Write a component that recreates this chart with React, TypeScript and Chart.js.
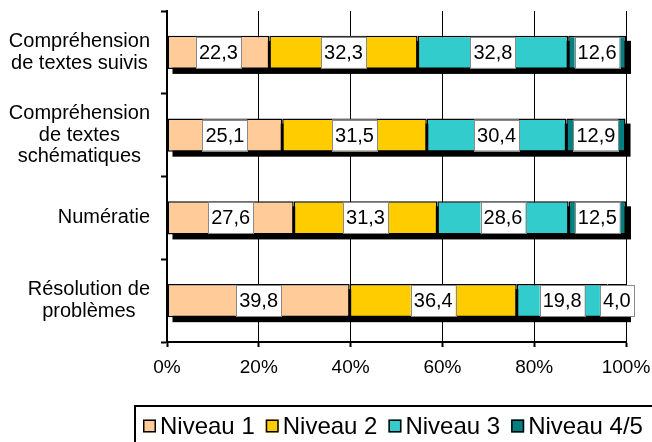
import React, { useEffect, useRef } from 'react';
import { Chart, registerables } from 'chart.js';

Chart.register(...registerables);

const categories: string[][] = [
  ['Compréhension', 'de textes suivis'],
  ['Compréhension', 'de textes', 'schématiques'],
  ['Numératie'],
  ['Résolution de', 'problèmes'],
];
const seriesNames = ['Niveau 1', 'Niveau 2', 'Niveau 3', 'Niveau 4/5'];
const niveau1 = [22.3, 25.1, 27.6, 39.8];
const niveau2 = [32.3, 31.5, 31.3, 36.4];
const niveau3 = [32.8, 30.4, 28.6, 19.8];
const niveau45 = [12.6, 12.9, 12.5, 4.0];
const xTickValues = [0, 20, 40, 60, 80, 100];
const seriesColors = ['#FFCC99', '#FFCC00', '#33CCCC', '#008080'];

const FONT = "'Liberation Sans', Arial, sans-serif";

const fmt = (v: number) => v.toFixed(1).replace('.', ',');

const shadowPlugin = {
  id: 'barShadow',
  beforeDatasetsDraw(chart: any) {
    const ctx = chart.ctx;
    const n = chart.data.labels.length;
    ctx.save();
    ctx.fillStyle = '#000';
    for (let j = 0; j < n; j++) {
      let minX = Infinity, maxX = -Infinity, y = 0, h = 0;
      chart.data.datasets.forEach((_: any, i: number) => {
        const el = chart.getDatasetMeta(i).data[j];
        if (!el) return;
        const p = el.getProps(['x', 'y', 'base', 'height'], true);
        minX = Math.min(minX, p.base, p.x);
        maxX = Math.max(maxX, p.base, p.x);
        y = p.y;
        h = p.height;
      });
      ctx.fillRect(minX + 5, y - h / 2 + 5, maxX - minX, h);
    }
    ctx.restore();
  },
};

const valueLabelPlugin = {
  id: 'valueLabels',
  afterDatasetsDraw(chart: any) {
    const ctx = chart.ctx;
    ctx.save();
    ctx.font = `20px ${FONT}`;
    ctx.textAlign = 'center';
    ctx.textBaseline = 'middle';
    chart.data.datasets.forEach((ds: any, i: number) => {
      const meta = chart.getDatasetMeta(i);
      meta.data.forEach((el: any, j: number) => {
        const p = el.getProps(['x', 'y', 'base', 'height'], true);
        const cx = (p.x + p.base) / 2;
        const text = fmt(ds.data[j]);
        const w = ctx.measureText(text).width + 6;
        const h = p.height - 2;
        ctx.fillStyle = '#fff';
        ctx.fillRect(cx - w / 2, p.y - h / 2, w, h);
        ctx.strokeStyle = '#8a8a8a';
        ctx.lineWidth = 1;
        ctx.strokeRect(Math.round(cx - w / 2) + 0.5, Math.round(p.y - h / 2) + 0.5, Math.round(w), Math.round(h));
        ctx.fillStyle = '#000';
        ctx.fillText(text, cx, p.y + 1);
      });
    });
    ctx.restore();
  },
};

const categoryLabelPlugin = {
  id: 'categoryLabels',
  afterDraw(chart: any) {
    const ctx = chart.ctx;
    const yScale = chart.scales.y;
    const right = chart.chartArea.left - 17;
    const lh = 21.5;
    ctx.save();
    ctx.font = `20px ${FONT}`;
    ctx.fillStyle = '#000';
    ctx.textAlign = 'center';
    ctx.textBaseline = 'middle';
    (chart.data.labels as string[][]).forEach((lines, j) => {
      const y = yScale.getPixelForValue(j);
      const maxW = Math.max(...lines.map((l) => ctx.measureText(l).width));
      const cx = right - maxW / 2;
      lines.forEach((line, k) => {
        ctx.fillText(line, cx, y - ((lines.length - 1) * lh) / 2 + k * lh);
      });
    });
    ctx.restore();
  },
};

const legendPlugin = {
  id: 'boxedLegend',
  afterDraw(chart: any) {
    const ctx = chart.ctx;
    ctx.save();
    ctx.strokeStyle = '#000';
    ctx.lineWidth = 2;
    ctx.strokeRect(135, 406, 540, 60);
    ctx.font = `24px ${FONT}`;
    ctx.textBaseline = 'middle';
    ctx.textAlign = 'left';
    let x = 143;
    const cy = 426;
    chart.data.datasets.forEach((ds: any) => {
      ctx.fillStyle = ds.backgroundColor;
      ctx.fillRect(x, cy - 6.5, 13, 13);
      ctx.strokeStyle = '#000';
      ctx.lineWidth = 1.5;
      ctx.strokeRect(x + 0.75, cy - 6.5 + 0.75, 11.5, 11.5);
      ctx.fillStyle = '#000';
      ctx.fillText(ds.label, x + 17, cy + 1);
      x += 17 + ctx.measureText(ds.label).width + 11;
    });
    ctx.restore();
  },
};

export default function App() {
  const ref = useRef<HTMLCanvasElement | null>(null);
  useEffect(() => {
    if (!ref.current) return;
    const values = [niveau1, niveau2, niveau3, niveau45];
    const chart = new Chart(ref.current, {
      type: 'bar',
      data: {
        labels: categories as any,
        datasets: seriesNames.map((name, i) => ({
          label: name,
          data: values[i],
          backgroundColor: seriesColors[i],
          borderColor: '#000',
          borderWidth: 1.5,
          borderSkipped: false,
          barPercentage: 0.4,
          categoryPercentage: 1,
        })),
      },
      options: {
        indexAxis: 'y',
        responsive: false,
        animation: false,
        devicePixelRatio: 1,
        layout: { padding: { top: 11, right: 26, bottom: 60, left: 0 } },
        plugins: {
          legend: { display: false },
          tooltip: { enabled: false },
        },
        scales: {
          x: {
            stacked: true,
            min: 0,
            max: 100,
            afterFit: (s: any) => {
              s.height = 40;
              s.paddingLeft = 0;
              s.paddingRight = 0;
            },
            afterBuildTicks: (s: any) => { s.ticks = xTickValues.map((v) => ({ value: v })); },
            ticks: {
              color: '#000',
              font: { family: FONT, size: 19 },
              padding: 9,
              maxRotation: 0,
              callback: (v: any) => `${v}%`,
            },
            grid: {
              color: '#000',
              lineWidth: 1,
              drawTicks: true,
              tickLength: 5,
              tickWidth: 2,
              tickColor: '#000',
            },
            border: { display: true, color: '#000', width: 2 },
          },
          y: {
            stacked: true,
            afterFit: (s: any) => { s.width = 167; },
            ticks: { display: false },
            grid: {
              display: true,
              drawOnChartArea: false,
              drawTicks: true,
              tickLength: 6,
              tickWidth: 2,
              tickColor: '#000',
              offset: true,
            },
            border: { display: true, color: '#000', width: 2 },
          },
        },
      },
      plugins: [shadowPlugin, valueLabelPlugin, categoryLabelPlugin, legendPlugin],
    } as any);
    return () => chart.destroy();
  }, []);
  return (
    <div style={{ position: 'absolute', left: 0, top: 0, width: 652, height: 442, background: '#fff' }}>
      <canvas ref={ref} width={652} height={442} style={{ display: 'block' }} />
    </div>
  );
}
